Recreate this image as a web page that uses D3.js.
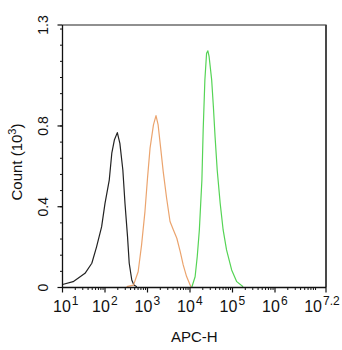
<!DOCTYPE html>
<html><head><meta charset="utf-8">
<script src="https://cdn.jsdelivr.net/npm/d3@7"></script>
<style>
html,body{margin:0;padding:0;background:#fff;}
svg{display:block;font-family:"Liberation Sans",Arial,sans-serif;}
</style></head>
<body><svg id="c" width="342" height="350"></svg>
<script>
// log10(APC-H) positions and counts (x10^3)
const blackLog = [1.0,1.25,1.53,1.69,1.8,1.92,2.0,2.1,2.16,2.22,2.29,2.35,2.42,2.47,2.53,2.57,2.63,2.68,2.75];
const blackVal = [0.015,0.029,0.07,0.12,0.2,0.3,0.417,0.532,0.665,0.73,0.767,0.714,0.582,0.417,0.252,0.12,0.037,0.012,0.004];
const orangeLog = [2.51,2.67,2.78,2.86,2.94,3.0,3.06,3.14,3.2,3.25,3.31,3.37,3.45,3.53,3.61,3.69,3.77,3.84,3.92,4.02];
const orangeVal = [0.004,0.012,0.078,0.21,0.376,0.541,0.69,0.805,0.851,0.805,0.69,0.574,0.442,0.327,0.285,0.244,0.178,0.112,0.054,0.004];
const greenLog = [4.04,4.12,4.17,4.22,4.28,4.31,4.35,4.39,4.42,4.45,4.51,4.55,4.59,4.64,4.71,4.78,4.86,4.98,5.1,5.25];
const greenVal = [0.0,0.053,0.152,0.285,0.532,0.78,1.028,1.16,1.172,1.143,1.028,0.896,0.747,0.582,0.417,0.285,0.186,0.087,0.029,0.004];
const xTickExp = ["1","2","3","4","5","6","7.2"];
const yTicks = [0,0.4,0.8,1.3];
const seriesColors = ["#222222","#eba46e","#55d455"];

const svg = d3.select("#c");
const L=62.5, R=326, T=25, B=287.5;
const x = d3.scaleLog().domain([1e1, Math.pow(10,7.2)]).range([L,R]);
const y = d3.scaleLinear().domain([0,1.3]).range([B,T]);

// frame
svg.append("path").attr("d",`M${L},${T}H${R}V${B}`).attr("fill","none").attr("stroke","#222").attr("stroke-width",1.2);
svg.append("line").attr("x1",R).attr("x2",R).attr("y1",T).attr("y2",B).attr("stroke","#444").attr("stroke-width",1.8);

// curves
const line = d3.line().x(d=>x(Math.pow(10,d[0]))).y(d=>y(d[1]));
const series = [[blackLog,blackVal],[orangeLog,orangeVal],[greenLog,greenVal]];
series.forEach((s,i)=>{
  const pts = s[0].map((v,j)=>[v,s[1][j]]);
  svg.append("path").datum(pts).attr("d",line).attr("fill","none")
    .attr("stroke",seriesColors[i]).attr("stroke-width",1.2).attr("stroke-linejoin","round");
});

// x axis
const gx = svg.append("g").attr("transform",`translate(0,${B})`);
gx.append("line").attr("x1",L).attr("x2",R).attr("stroke","#111").attr("stroke-width",1.3);
const minor=[];
for(let e=1;e<=7;e++){ for(let m=2;m<=9;m++){ const v=m*Math.pow(10,e); if(v<=Math.pow(10,7.2)) minor.push(v);} }
gx.selectAll(".mn").data(minor).join("line").attr("x1",d=>x(d)).attr("x2",d=>x(d)).attr("y1",0).attr("y2",2.5).attr("stroke","#111");
const majors = xTickExp.map(e=>Math.pow(10,+e));
gx.selectAll(".mj").data(majors).join("line").attr("x1",d=>x(d)).attr("x2",d=>x(d)).attr("y1",0).attr("y2",5).attr("stroke","#111").attr("stroke-width",1.2);
xTickExp.forEach((e,i)=>{
  const t = svg.append("text").attr("y",312).attr("fill","#111").style("font-size","16px");
  t.append("tspan").text("10");
  t.append("tspan").attr("dx",1).attr("dy",-7).style("font-size","12px").text(e);
  const w = t.node().getBBox().width;
  let cx = x(majors[i]);
  let left = cx - w/2;
  if(left<53) left=53;
  if(left+w>340) left=340-w;
  t.attr("x",left);
});
svg.append("text").attr("x",(L+R)/2).attr("y",342).attr("text-anchor","middle").attr("fill","#111").style("font-size","15px").text("APC-H");

// y axis
const gy = svg.append("g");
gy.append("line").attr("x1",L).attr("x2",L).attr("y1",T).attr("y2",B).attr("stroke","#111").attr("stroke-width",1.3);
const yMinor = d3.range(0,1.3,0.08);
gy.selectAll(".ym").data(yMinor).join("line").attr("x1",L-2.5).attr("x2",L).attr("y1",d=>y(d)).attr("y2",d=>y(d)).attr("stroke","#111");
gy.selectAll(".yM").data(yTicks).join("line").attr("x1",L-5).attr("x2",L).attr("y1",d=>y(d)).attr("y2",d=>y(d)).attr("stroke","#111").attr("stroke-width",1.2);
gy.selectAll(".yl").data(yTicks).join("text")
  .attr("transform",d=>`translate(48,${y(d)}) rotate(-90)`).attr("text-anchor","middle")
  .attr("fill","#111").style("font-size","14px").text(d=>d3.format("")(d));
const yl = svg.append("text").attr("transform",`translate(22,162) rotate(-90)`).attr("text-anchor","middle").attr("fill","#111").style("font-size","15px");
yl.append("tspan").text("Count (10");
yl.append("tspan").attr("dy",-6).style("font-size","11px").text("3");
yl.append("tspan").attr("dy",6).text(")");
</script></body></html>
